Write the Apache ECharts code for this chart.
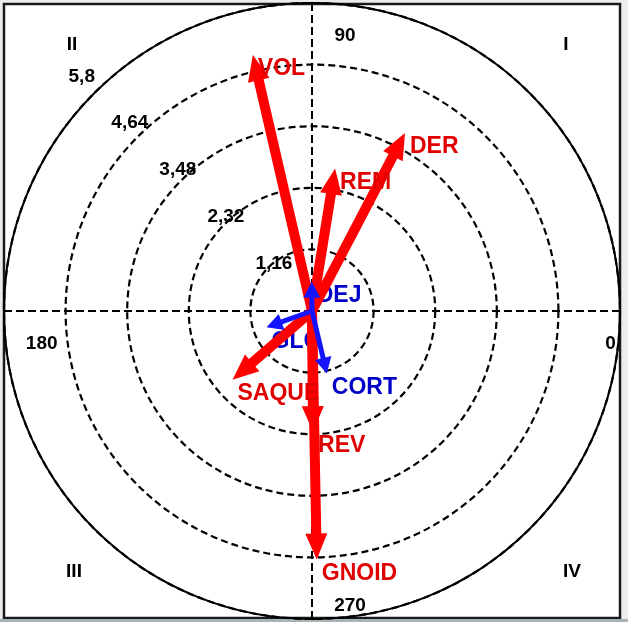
<!DOCTYPE html>
<html>
<head>
<meta charset="utf-8">
<script src="https://cdn.jsdelivr.net/npm/echarts@6/dist/echarts.min.js"></script>
<style>
html,body{margin:0;padding:0;background:#ececec;}
#chart{width:628px;height:622px;}
</style>
</head>
<body>
<div id="chart"></div>
<script>
// ---- data ----
var redNames   = ['VOL', 'DER', 'REM', 'SAQUE', 'REV', 'GNOID'];
var redRadius  = [4.95, 3.78, 2.72, 1.98, 2.28, 4.68];
var redAngle   = [103.0, 62.4, 80.8, 220.9, 270.5, 271.1];

var blueNames  = ['DEJ', 'GLC', 'CORT'];
var blueRadius = [0.55, 0.91, 1.21];
var blueAngle  = [90.5, 199.8, 283.3];

var radiusTicks      = [1.16, 2.32, 3.48, 4.64, 5.8];
var radiusTickLabels = ['1,16', '2,32', '3,48', '4,64', '5,8'];
var angleTicks       = [0, 90, 180, 270];
var angleTickLabels  = ['0', '90', '180', '270'];
var quadrantLabels   = ['I', 'II', 'III', 'IV'];

// ---- styles ----
var FONT_TICK = 'bold 19px "Liberation Sans", Arial, sans-serif';
var FONT_VAR  = 'bold 23px "Liberation Sans", Arial, sans-serif';
var RED = '#ff0000', RED_TXT = '#e00000', BLUE = '#1414ff', BLUE_TXT = '#0000c8';
var TICK_LABEL_ANGLE = 135.8, TICK_LABEL_SPREAD = 1.088, TICK_LABEL_DX = 10, TICK_LABEL_DY = -1;
var angleLabelStyle = {
  0:   {r: 5.62, dx: 0,  dy: 33},
  90:  {r: 5.18, dx: 33, dy: 0},
  180: {r: 5.09, dx: 0,  dy: 33},
  270: {r: 5.56, dx: 38, dy: 0}
};
var quadPos = {'I': [566, 45], 'II': [72, 45], 'III': [74, 572], 'IV': [572, 572]};

function zip(r, a, n) {
  return r.map(function (v, i) { return {value: [v, a[i]], name: n[i]}; });
}

function arrowSeries(data, color, shaftW, headL, headW, z) {
  return {
    type: 'custom', coordinateSystem: 'polar', z: z, silent: true,
    data: data,
    renderItem: function (params, api) {
      var r = api.value(0), a = api.value(1);
      var tip = api.coord([r, a]);
      var c = api.coord([0, a]);
      var dx = tip[0] - c[0], dy = tip[1] - c[1];
      var len = Math.sqrt(dx * dx + dy * dy) || 1;
      var ux = dx / len, uy = dy / len, px = -uy, py = ux;
      var hl = Math.min(headL, len * 0.7), hw = headW / 2;
      var bx = tip[0] - ux * hl, by = tip[1] - uy * hl;
      return {
        type: 'group',
        children: [
          {type: 'line', shape: {x1: c[0], y1: c[1], x2: bx + ux * 3, y2: by + uy * 3},
           style: {stroke: color, lineWidth: shaftW}},
          {type: 'polygon', shape: {points: [[tip[0], tip[1]], [bx + px * hw, by + py * hw], [bx - px * hw, by - py * hw]]},
           style: {fill: color}}
        ]
      };
    }
  };
}

function labelSeries(data, color, z) {
  return {
    type: 'custom', coordinateSystem: 'polar', z: z, silent: true,
    data: data,
    renderItem: function (params, api) {
      var tip = api.coord([api.value(0), api.value(1)]);
      return {
        type: 'text', x: tip[0] + 5, y: tip[1] + 14,
        style: {text: data[params.dataIndex].name, fill: color, font: FONT_VAR,
                align: 'left', verticalAlign: 'middle'}
      };
    }
  };
}

var chart = echarts.init(document.getElementById('chart'), null, {renderer: 'canvas'});

var option = {
  backgroundColor: '#ececec',
  animation: false,
  graphic: [
    {type: 'rect', z: -10, shape: {x: 4, y: 4, width: 616, height: 614},
     style: {fill: '#ffffff', stroke: '#1a1a1a', lineWidth: 2.5}},
    {type: 'rect', z: -10, shape: {x: 0, y: 619, width: 628, height: 3},
     style: {fill: '#a9b3b7'}}
  ].concat(quadrantLabels.map(function (q) {
    return {type: 'text', z: 10, x: quadPos[q][0], y: quadPos[q][1],
            style: {text: q, font: FONT_TICK, fill: '#000', align: 'center', verticalAlign: 'middle'}};
  })),
  polar: {center: [312, 311], radius: 308},
  angleAxis: {
    type: 'value', min: 0, max: 360, interval: 90, startAngle: 0, clockwise: false,
    axisLine: {show: true, lineStyle: {color: '#000', width: 2}},
    axisTick: {show: false}, axisLabel: {show: false},
    splitLine: {show: true, lineStyle: {color: '#000', width: 2, type: [8, 4]}}
  },
  radiusAxis: {
    type: 'value', min: 0, max: 5.8, interval: 1.16,
    axisLine: {show: false}, axisTick: {show: false}, axisLabel: {show: false},
    splitLine: {show: true, lineStyle: {color: '#000', width: 2.2, type: [7, 4]}}
  },
  series: [
    // radius tick labels
    {
      type: 'custom', coordinateSystem: 'polar', z: 5, silent: true,
      data: radiusTicks.map(function (v) { return [v, TICK_LABEL_ANGLE]; }),
      renderItem: function (params, api) {
        var p = api.coord([api.value(0) * TICK_LABEL_SPREAD, api.value(1)]);
        return {type: 'text', x: p[0] + TICK_LABEL_DX, y: p[1] + TICK_LABEL_DY,
                style: {text: radiusTickLabels[params.dataIndex], font: FONT_TICK, fill: '#000',
                        align: 'center', verticalAlign: 'middle'}};
      }
    },
    // angle tick labels
    {
      type: 'custom', coordinateSystem: 'polar', z: 5, silent: true,
      data: angleTicks.map(function (a) { return [angleLabelStyle[a].r, a]; }),
      renderItem: function (params, api) {
        var a = angleTicks[params.dataIndex], s = angleLabelStyle[a];
        var p = api.coord([api.value(0), api.value(1)]);
        return {type: 'text', x: p[0] + s.dx, y: p[1] + s.dy,
                style: {text: angleTickLabels[params.dataIndex], font: FONT_TICK, fill: '#000',
                        align: 'center', verticalAlign: 'middle'}};
      }
    },
    labelSeries(zip(blueRadius, blueAngle, blueNames), BLUE_TXT, 6),
    arrowSeries(zip(redRadius, redAngle, redNames), RED, 10, 26, 22, 7),
    labelSeries(zip(redRadius, redAngle, redNames), RED_TXT, 8),
    arrowSeries(zip(blueRadius, blueAngle, blueNames), BLUE, 5, 16, 17, 9)
  ]
};
chart.setOption(option);
</script>
</body>
</html>
